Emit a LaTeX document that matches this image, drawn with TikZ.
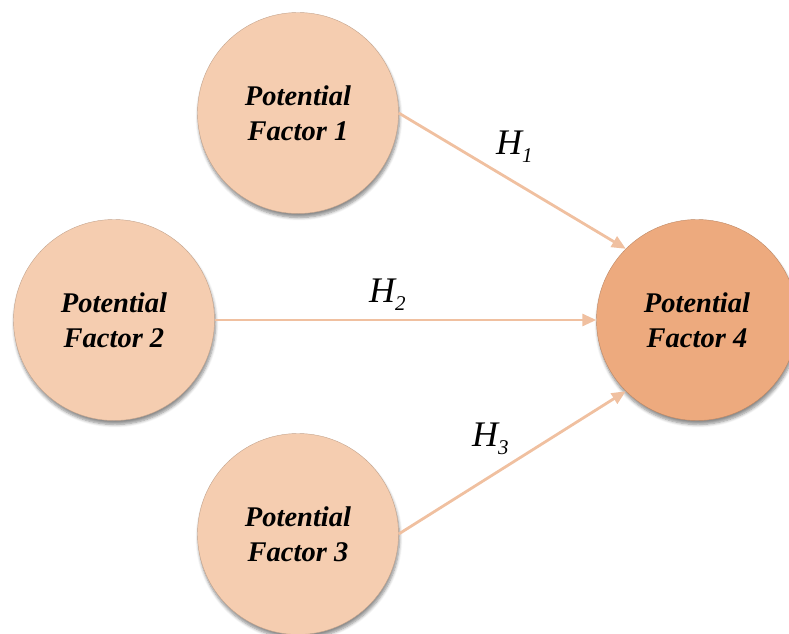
\documentclass[tikz,border=0pt]{standalone}
\usepackage{fontspec}
\setmainfont{Liberation Serif}
\usetikzlibrary{arrows.meta,shadows.blur}
\definecolor{factorfill}{HTML}{F5CDB0}
\definecolor{outcomefill}{HTML}{EDAA7E}
\definecolor{pathcol}{HTML}{F0C0A0}
\newcommand\hypo[1]{{\fontsize{36}{42}\selectfont\itshape H}\raisebox{-8pt}{\fontsize{21}{25}\selectfont\itshape #1}}
\begin{document}
\begin{tikzpicture}[x=1pt,y=1pt,
  factor/.style={circle, minimum size=201pt, inner sep=0pt,
    fill=factorfill, draw=factorfill!80!black, line width=0.4pt,
    blur shadow={shadow xshift=1pt, shadow yshift=-4pt,
      shadow blur steps=6, shadow blur radius=3pt, shadow opacity=45},
    align=center, font=\fontsize{28.5}{35}\selectfont\bfseries\itshape},
  outcome/.style={factor, fill=outcomefill, draw=outcomefill!80!black},
  path/.style={draw=pathcol, line width=2.8pt,
    -{Triangle[length=14pt,width=12pt]}},
  hlabel/.style={anchor=base west, inner sep=0pt}]
\useasboundingbox (0,0) rectangle (789,633);
\clip (0,0) rectangle (789,633);

% predictor and outcome factors
\node[factor]  (f1) at (298,520) {Potential\\Factor 1};
\node[factor]  (f2) at (114,313) {Potential\\Factor 2};
\node[factor]  (f3) at (298,99)  {Potential\\Factor 3};
\node[outcome] (f4) at (697,313) {Potential\\Factor 4};

% hypothesised paths
\draw[path] (f1.east) -- (f4.north west);
\draw[path] (f2.east) -- (f4.west);
\draw[path] (f3.east) -- (f4.south west);

% hypothesis labels
\node[hlabel] (h1) at (496,478) {\hypo{1}};
\node[hlabel] (h2) at (369,331) {\hypo{2}};
\node[hlabel] (h3) at (472,187) {\hypo{3}};
\end{tikzpicture}
\end{document}
